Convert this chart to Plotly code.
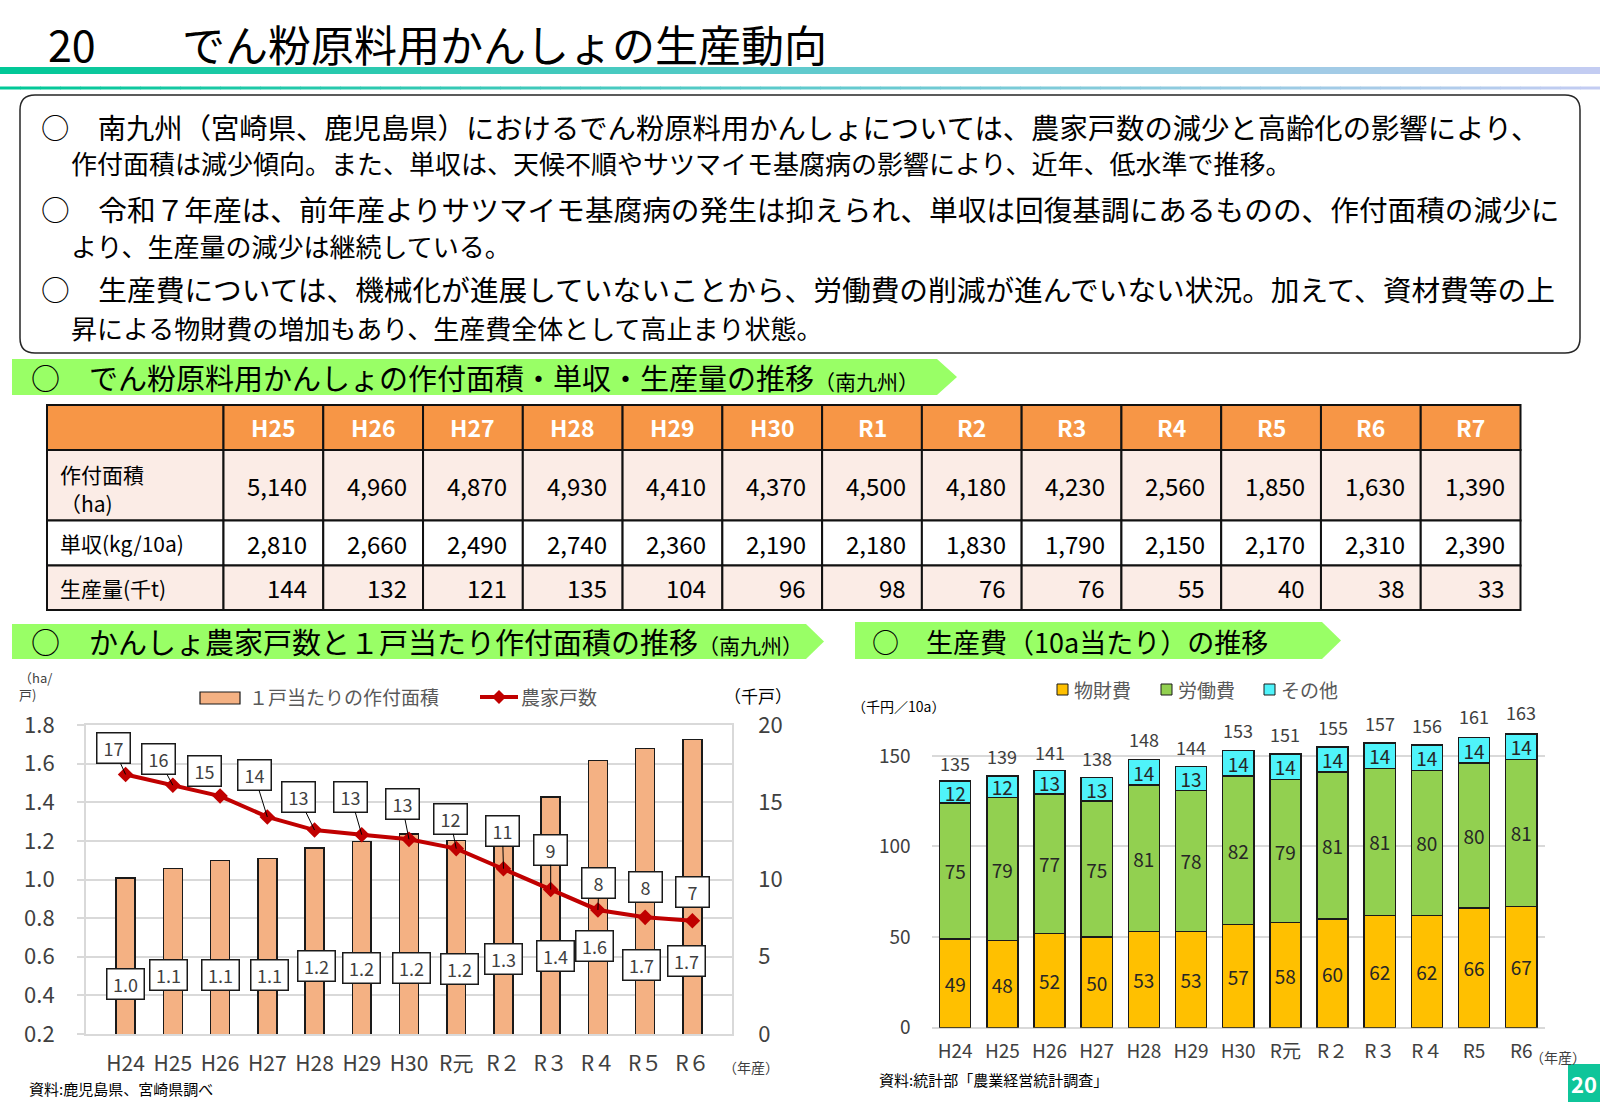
import plotly.graph_objects as go

W, H = 1600, 1108
def px(x): return x / W
def py(y): return 1 - y / H

FONT = "Noto Sans CJK JP"
NARROW = "Liberation Sans Narrow, Arial Narrow, Noto Sans CJK JP"

# ---------------- data ----------------
title_no = "20"
title_text = "でん粉原料用かんしょの生産動向"

body_lines = [
    "○　南九州（宮崎県、鹿児島県）におけるでん粉原料用かんしょについては、農家戸数の減少と高齢化の影響により、",
    "作付面積は減少傾向。また、単収は、天候不順やサツマイモ基腐病の影響により、近年、低水準で推移。",
    "○　令和７年産は、前年産よりサツマイモ基腐病の発生は抑えられ、単収は回復基調にあるものの、作付面積の減少に",
    "より、生産量の減少は継続している。",
    "○　生産費については、機械化が進展していないことから、労働費の削減が進んでいない状況。加えて、資材費等の上",
    "昇による物財費の増加もあり、生産費全体として高止まり状態。",
]

sec1_title = "○　でん粉原料用かんしょの作付面積・単収・生産量の推移"
sec2_title = "○　かんしょ農家戸数と１戸当たり作付面積の推移"
sec3_title = "○　生産費（10a当たり）の推移"
region_note = "（南九州）"

table_years = ["H25", "H26", "H27", "H28", "H29", "H30", "R1", "R2", "R3", "R4", "R5", "R6", "R7"]
row_labels = [["作付面積", "（ha)"], ["単収(kg/10a)"], ["生産量(千t)"]]
area_ha = [5140, 4960, 4870, 4930, 4410, 4370, 4500, 4180, 4230, 2560, 1850, 1630, 1390]
yield_kg = [2810, 2660, 2490, 2740, 2360, 2190, 2180, 1830, 1790, 2150, 2170, 2310, 2390]
production_kt = [144, 132, 121, 135, 104, 96, 98, 76, 76, 55, 40, 38, 33]

farm_years = ["H24", "H25", "H26", "H27", "H28", "H29", "H30", "R元", "R２", "R３", "R４", "R５", "R６"]
area_per_farm = [1.007, 1.057, 1.098, 1.110, 1.162, 1.197, 1.235, 1.202, 1.28, 1.426, 1.616, 1.678, 1.724]
farm_households = [16.8, 16.1, 15.4, 14.05, 13.2, 12.9, 12.6, 12.0, 10.7, 9.35, 8.03, 7.55, 7.33]

cost_years = ["H24", "H25", "H26", "H27", "H28", "H29", "H30", "R元", "R２", "R３", "R４", "R5", "R6"]
cost_material = [49, 48, 52, 50, 53, 53, 57, 58, 60, 62, 62, 66, 67]
cost_labor = [75, 79, 77, 75, 81, 78, 82, 79, 81, 81, 80, 80, 81]
cost_other = [12, 12, 13, 13, 14, 13, 14, 14, 14, 14, 14, 14, 14]
cost_total = [135, 139, 141, 138, 148, 144, 153, 151, 155, 157, 156, 161, 163]

# ---------------- label placement (layout only) ----------------
bar_label_y = [0.459, 0.507, 0.507, 0.507, 0.551, 0.542, 0.542, 0.535, 0.587, 0.603, 0.658, 0.556, 0.578]
bar_label_dx = [0, -4, 0, 2, 2, 0, 2, 3, 0, 5, -3.5, -4, -6]
hh_label_dx = [-12, -14, -16, -13, -16, -11, -7, -6, -1, 0, 1, 0, 0]
hh_label_dy = [-26, -26, -25, -42, -33, -38, -35, -30, -38, -40, -27, -30, -29]
hh_leader = [True, True, False, True, True, True, True, True, True, True, True, False, False]

C_BAR = "#F4B183"
C_LINE = "#C00000"
C_MAT = "#FFC000"
C_LAB = "#92D050"
C_OTH = "#4FF3FA"
C_GREEN_HDR = "#99FF66"
C_TXT = "#404040"
C_GRID = "#D9D9D9"

fig = go.Figure()

# ---------------- left chart ----------------
fig.add_trace(go.Bar(
    x=farm_years, y=area_per_farm, width=0.4,
    marker=dict(color=C_BAR, line=dict(color="#1a1a1a", width=1.5)),
    xaxis="x", yaxis="y", name="１戸当たりの作付面積", hoverinfo="skip"))
fig.add_trace(go.Scatter(
    x=farm_years, y=farm_households, mode="lines+markers",
    line=dict(color=C_LINE, width=4),
    marker=dict(symbol="diamond", size=12, color=C_LINE),
    xaxis="x", yaxis="y2", name="農家戸数", hoverinfo="skip"))

# ---------------- right chart ----------------
for vals, col, nm in [(cost_material, C_MAT, "物財費"), (cost_labor, C_LAB, "労働費"), (cost_other, C_OTH, "その他")]:
    fig.add_trace(go.Bar(
        x=cost_years, y=vals, width=0.66, name=nm,
        marker=dict(color=col, line=dict(color="#1a1a1a", width=1.5)),
        text=vals, texttemplate="%{text}", textposition="inside", insidetextanchor="middle",
        textangle=0, constraintext="none",
        textfont=dict(family=FONT, size=19, color="#262626"),
        xaxis="x2", yaxis="y3", hoverinfo="skip"))

shapes = []
ann = []

def text_at(x, y, t, size, color="#000", anchor="left", family=FONT):
    ann.append(dict(x=px(x), y=py(y), xref="paper", yref="paper", xanchor=anchor, yanchor="middle",
                    text=t, showarrow=False, font=dict(family=family, size=size, color=color)))

# ---------------- title and gradient lines ----------------
text_at(46, 43, title_no, 43)
text_at(180, 43, title_text, 43)

stops = [(0.0, (0, 200, 150)), (0.5, (95, 202, 205)), (1.0, (196, 204, 242))]
def grad(t):
    for (t0, c0), (t1, c1) in zip(stops[:-1], stops[1:]):
        if t <= t1:
            f = (t - t0) / (t1 - t0)
            return "rgb(%d,%d,%d)" % tuple(round(a + (b - a) * f) for a, b in zip(c0, c1))
    return "rgb(%d,%d,%d)" % stops[-1][1]
N = 80
for i in range(N):
    c = grad((i + 0.5) / N)
    for (y0, y1) in [(67, 74), (86.5, 89.5)]:
        shapes.append(dict(type="rect", xref="paper", yref="paper", x0=px(i * W / N), x1=px((i + 1) * W / N + 0.6),
                           y0=py(y1), y1=py(y0), fillcolor=c, line=dict(width=0), layer="below"))

# ---------------- text box ----------------
def rrect(x0, y0, x1, y1, r):
    return (f"M {px(x0+r)},{py(y0)} L {px(x1-r)},{py(y0)} Q {px(x1)},{py(y0)} {px(x1)},{py(y0+r)} "
            f"L {px(x1)},{py(y1-r)} Q {px(x1)},{py(y1)} {px(x1-r)},{py(y1)} "
            f"L {px(x0+r)},{py(y1)} Q {px(x0)},{py(y1)} {px(x0)},{py(y1-r)} "
            f"L {px(x0)},{py(y0+r)} Q {px(x0)},{py(y0)} {px(x0+r)},{py(y0)} Z")
shapes.append(dict(type="path", xref="paper", yref="paper", path=rrect(20, 95, 1580, 353, 15),
                   fillcolor="white", line=dict(color="#262626", width=1.5), layer="below"))

BODY_SIZE = 26
line_y = [127, 163, 208, 245, 289, 327]
justify_end = {0: 1541, 2: 1558, 4: 1560}
for idx, (line, yy) in enumerate(zip(body_lines, line_y)):
    xs = 39 if line.startswith("○") else 69
    size = BODY_SIZE
    if idx in justify_end:
        # full-width glyphs: emulate the justified line by its pitch
        size = round((justify_end[idx] - xs) / len(line), 2)
    text_at(xs, yy, line, size)

# ---------------- section headers ----------------
def arrow(x0, x1, x2, y0, y1):
    return (f"M {px(x0)},{py(y0)} L {px(x1)},{py(y0)} L {px(x2)},{py((y0+y1)/2)} "
            f"L {px(x1)},{py(y1)} L {px(x0)},{py(y1)} Z")
for (x0, x1, x2, y0, y1) in [(12, 937, 957, 359, 395), (12, 806, 824, 624, 659), (855, 1322, 1341, 622, 659)]:
    shapes.append(dict(type="path", xref="paper", yref="paper", path=arrow(x0, x1, x2, y0, y1),
                       fillcolor=C_GREEN_HDR, line=dict(width=0), layer="below"))
small = '<span style="font-size:21px">' + region_note + '</span>'
text_at(29, 377, sec1_title + small, 29)
text_at(29, 641, sec2_title + small, 29)
text_at(870, 641, sec3_title, 27)

# ---------------- table ----------------
tx0, tc0, tcw = 47, 223.5, 99.77
row_y = [405, 450, 520.5, 565.5, 610]
row_fill = ["#F79646", "#FBECE6", "#FFFFFF", "#FBECE6"]
col_x = [tx0, tc0] + [tc0 + tcw * (i + 1) for i in range(len(table_years))]
for r in range(4):
    for c in range(len(col_x) - 1):
        shapes.append(dict(type="rect", xref="paper", yref="paper",
                           x0=px(col_x[c]), x1=px(col_x[c + 1]), y0=py(row_y[r + 1]), y1=py(row_y[r]),
                           fillcolor=row_fill[r], line=dict(color="#111", width=2), layer="below"))
for c, yr in enumerate(table_years):
    text_at((col_x[c + 1] + col_x[c + 2]) / 2, (row_y[0] + row_y[1]) / 2, "<b>" + yr + "</b>", 23,
            color="white", anchor="center", family=NARROW)
for r, (labs, vals) in enumerate(zip(row_labels, [area_ha, yield_kg, production_kt])):
    yc = (row_y[r + 1] + row_y[r + 2]) / 2
    if len(labs) == 2:
        text_at(58, 474, labs[0], 21)
        text_at(58, 503, labs[1], 21)
    else:
        text_at(58, yc, labs[0], 21)
    for c, v in enumerate(vals):
        text_at(col_x[c + 2] - 14, yc, f"{v:,}", 24, anchor="right", family=NARROW)

# ---------------- left chart labels, legend, notes ----------------
for i, (yr, v) in enumerate(zip(farm_years, area_per_farm)):
    ann.append(dict(x=yr, y=bar_label_y[i], xref="x", yref="y", xshift=bar_label_dx[i], showarrow=False,
                    text=f"{v:.1f}", width=30, height=23, bgcolor="white", bordercolor="#1a1a1a",
                    borderwidth=1.5, borderpad=3, font=dict(family=FONT, size=18, color=C_TXT)))
for i, (yr, v) in enumerate(zip(farm_years, farm_households)):
    base = dict(x=yr, y=v, xref="x", yref="y2", text=f"{v:.0f}", width=26, height=23, bgcolor="white",
                bordercolor="#1a1a1a", borderwidth=1.5, borderpad=3, font=dict(family=FONT, size=18, color=C_TXT))
    if hh_leader[i]:
        base.update(showarrow=True, ax=hh_label_dx[i], ay=hh_label_dy[i], arrowhead=0, arrowwidth=1,
                    arrowcolor="#000", standoff=0)
    else:
        base.update(showarrow=False, xshift=hh_label_dx[i], yshift=-hh_label_dy[i])
    ann.append(base)

shapes.append(dict(type="rect", xref="paper", yref="paper", x0=px(200), x1=px(240), y0=py(704), y1=py(692),
                   fillcolor=C_BAR, line=dict(color="#1a1a1a", width=1.2)))
text_at(247, 697, "１戸当たりの作付面積", 19, color="#595959")
shapes.append(dict(type="line", xref="paper", yref="paper", x0=px(480), x1=px(518), y0=py(697), y1=py(697),
                   line=dict(color=C_LINE, width=4)))
shapes.append(dict(type="path", xref="paper", yref="paper",
                   path=f"M {px(499)},{py(690)} L {px(506)},{py(697)} L {px(499)},{py(704)} L {px(492)},{py(697)} Z",
                   fillcolor=C_LINE, line=dict(width=0)))
text_at(519, 697, "農家戸数", 19, color="#595959")
ann.append(dict(x=px(17), y=py(686), xref="paper", yref="paper", xanchor="left", yanchor="middle",
                showarrow=False, text="（ha/<br>戸)", align="left",
                font=dict(family=FONT, size=13, color=C_TXT)))
text_at(758, 695, "（千戸）", 17, anchor="center")
text_at(751, 1067, "（年産）", 14, color=C_TXT, anchor="center")
text_at(27, 1088, "資料:鹿児島県、宮崎県調べ", 15)

# ---------------- right chart labels, legend, notes ----------------
for yr, t in zip(cost_years, cost_total):
    ann.append(dict(x=yr, y=t, xref="x2", yref="y3", yshift=20, showarrow=False, text=str(t),
                    font=dict(family=FONT, size=18, color=C_TXT)))
for xs, col, nm in [(1057, C_MAT, "物財費"), (1161, C_LAB, "労働費"), (1264, C_OTH, "その他")]:
    shapes.append(dict(type="rect", xref="paper", yref="paper", x0=px(xs), x1=px(xs + 11), y0=py(695), y1=py(684),
                       fillcolor=col, line=dict(color="#1a1a1a", width=1)))
    text_at(xs + 15, 689, nm, 19, color="#595959")
text_at(850, 706, "（千円／10a）", 14)
text_at(1558, 1057, "（年産）", 14, color=C_TXT, anchor="center")
text_at(877, 1079, "資料:統計部「農業経営統計調査」", 15)

# page number
shapes.append(dict(type="rect", xref="paper", yref="paper", x0=px(1568), x1=px(1600), y0=py(1102), y1=py(1064),
                   fillcolor="#0FC59A", line=dict(width=0)))
text_at(1584, 1083, "<b>20</b>", 22, color="white", anchor="center")

fig.update_layout(
    width=W, height=H, margin=dict(l=0, r=0, t=0, b=0, pad=0, autoexpand=False),
    paper_bgcolor="white", plot_bgcolor="white", showlegend=False, barmode="stack",
    font=dict(family=FONT),
    xaxis=dict(domain=[px(85.8), px(732.2)], anchor="y", type="category", showline=True, linecolor=C_GRID,
               linewidth=1.5, mirror=True, ticks="", tickfont=dict(family=FONT, size=21, color=C_TXT),
               ticklabelstandoff=10, automargin=False),
    yaxis=dict(domain=[py(1034), py(725)], range=[0.2, 1.8], tick0=0.2, dtick=0.2, tickformat=".1f",
               showgrid=True, gridcolor=C_GRID, gridwidth=1.5, showline=True, linecolor=C_GRID, linewidth=1.5,
               ticks="outside", ticklen=7, tickcolor=C_GRID, tickwidth=1.5, zeroline=False,
               tickfont=dict(family=FONT, size=22, color=C_TXT), ticklabelstandoff=18, automargin=False),
    yaxis2=dict(overlaying="y", side="right", anchor="x", range=[0, 20], dtick=5, showgrid=False,
                showline=True, linecolor=C_GRID, linewidth=1.5, zeroline=False,
                tickfont=dict(family=FONT, size=22, color=C_TXT), ticklabelstandoff=20, automargin=False),
    xaxis2=dict(domain=[px(931.6), px(1544.8)], anchor="y3", type="category", showline=False, ticks="",
                tickfont=dict(family=FONT, size=19, color=C_TXT), ticklabelstandoff=10, automargin=False),
    yaxis3=dict(domain=[py(1027.7), py(701.5)], anchor="x2", range=[0, 180], tickvals=[0, 50, 100, 150],
                showgrid=True, gridcolor=C_GRID, gridwidth=1.5, zeroline=True, zerolinecolor=C_GRID,
                zerolinewidth=1.5, showline=False, ticks="", tickfont=dict(family=FONT, size=19, color=C_TXT),
                ticklabelstandoff=20, automargin=False),
    shapes=shapes, annotations=ann,
)

fig.write_html("out.html")
